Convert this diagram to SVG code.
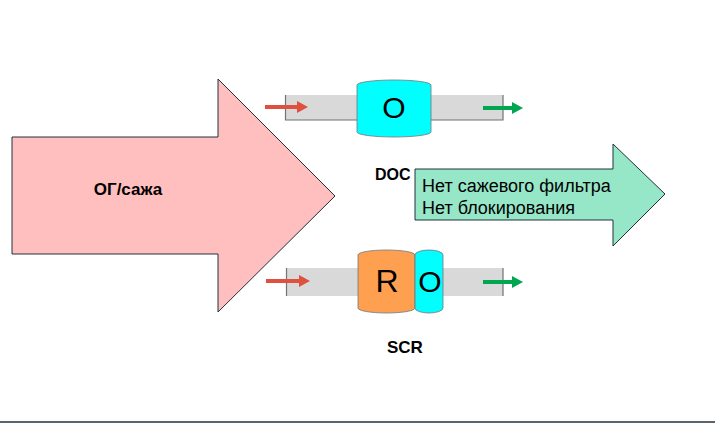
<svg xmlns="http://www.w3.org/2000/svg" width="715" height="423" viewBox="0 0 715 423">
<style>
.bar{fill:#D9D9D9;stroke:none}
.barEdge{fill:none;stroke:#6E7478;stroke-width:1.2}
.lbl{font-family:"Liberation Sans",Arial,sans-serif;font-weight:bold;font-size:17px;fill:#000}
.big{font-family:"Liberation Sans",Arial,sans-serif;font-size:30px;fill:#000;text-anchor:middle}
.txt{font-family:"Liberation Sans",Arial,sans-serif;font-size:18px;fill:#000}
.red{stroke:#E0503F;stroke-width:4;fill:none}
.redh{fill:#E0503F}
.grn{stroke:#00A650;stroke-width:4;fill:none}
.grnh{fill:#00A650}
</style>
<rect x="0" y="0" width="715" height="423" fill="#fff"/>
<line x1="0" y1="422" x2="715" y2="422" stroke="#22303C" stroke-width="1.5"/>
<g id="og-arrow">
<path d="M12,137 H218 V79 L335,196 L218,312 V254 H12 Z" fill="#FFBFBF" stroke="#22303C" stroke-width="1"/>
<text class="lbl" x="128" y="195" text-anchor="middle">ОГ/сажа</text>
</g>
<g id="doc">
<rect class="bar" x="285" y="95" width="218" height="25"/>
<path class="barEdge" d="M285.5,95 V120 H503 V95"/>
<path d="M357,85 A37,5 0 0 1 431,85 V132 A37,5 0 0 1 357,132 Z" fill="#00FFFF" stroke="#6E7478" stroke-width="0.8"/>
<text class="big" x="394" y="118">O</text>
<text class="lbl" x="375" y="180" style="font-size:16px">DOC</text>
</g>
<g id="scr">
<rect class="bar" x="286" y="268" width="217" height="28"/>
<path class="barEdge" d="M286.5,268 V296 M503,268 V296"/>
<path d="M358,255 A28.5,5 0 0 1 415,255 V308 A28.5,5 0 0 1 358,308 Z" fill="#FF9F50" stroke="#6E7478" stroke-width="0.8"/>
<path d="M415,255 A14,5 0 0 1 443,255 V308 A14,5 0 0 1 415,308 Z" fill="#00FFFF" stroke="#6E7478" stroke-width="0.8"/>
<text class="big" x="387" y="292" style="font-size:32px">R</text>
<text class="big" x="430" y="292" style="font-size:30px">O</text>
<text class="lbl" x="387" y="353">SCR</text>
</g>
<g id="result-arrow">
<path d="M415,169 H613 V144 L665,194 L613,246 V220 H415 Z" fill="#96E6C8" stroke="#22303C" stroke-width="1"/>
<text class="txt" x="422" y="192">Нет сажевого фильтра</text>
<text class="txt" x="422" y="214">Нет блокирования</text>
</g>
<g id="connectors">
<line class="red" x1="265" y1="107" x2="298" y2="107"/>
<path class="redh" d="M297,101 L308,107 L297,113 Z"/>
<line class="grn" x1="483" y1="108" x2="513" y2="108"/>
<path class="grnh" d="M512,102 L523,108 L512,114 Z"/>
<line class="red" x1="266" y1="281" x2="300" y2="281"/>
<path class="redh" d="M299,275 L310,281 L299,287 Z"/>
<line class="grn" x1="483" y1="282" x2="513" y2="282"/>
<path class="grnh" d="M512,276 L523,282 L512,288 Z"/>
</g>
</svg>
